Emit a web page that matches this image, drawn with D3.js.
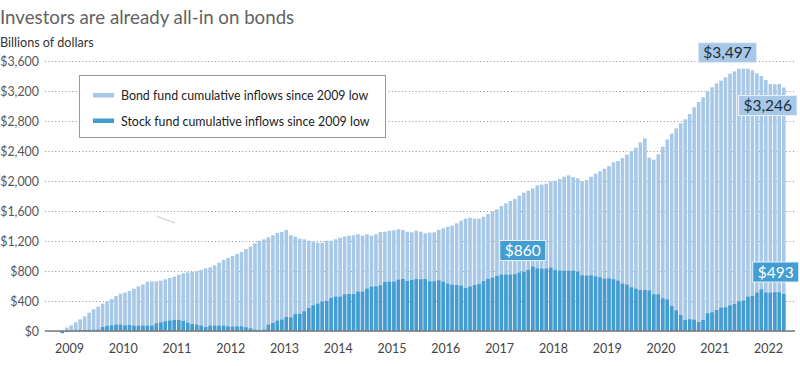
<!DOCTYPE html>
<html>
<head>
<meta charset="utf-8">
<script src="https://cdn.jsdelivr.net/npm/d3@7"></script>
<style>
  html, body { margin: 0; padding: 0; background: #fff; }
  svg { display: block; font-family: Lato, "Open Sans", sans-serif; }
</style>
</head>
<body>
<svg id="chart" width="800" height="366"></svg>
<script>
// ---- Data ----
const startMonth = new Date(2009, 2, 1);   // March 2009 (the 2009 low)
const endMonth = new Date(2022, 8, 1);     // exclusive: through August 2022
const months = d3.timeMonth.range(startMonth, endMonth);

const bondValues = [
  -20, 45, 75, 115, 155, 195, 245, 290, 325, 365,
  395, 427, 467, 498, 511, 533, 564, 595, 622, 658,
  662, 662, 671, 689, 707, 724, 751, 769, 782, 787,
  795, 813, 835, 849, 875, 911, 947, 973, 1000, 1027,
  1053, 1093, 1124, 1169, 1204, 1222, 1249, 1276, 1307, 1320,
  1347, 1276, 1258, 1231, 1222, 1204, 1191, 1178, 1178, 1204,
  1204, 1222, 1244, 1258, 1271, 1276, 1289, 1271, 1289, 1271,
  1289, 1320, 1324, 1338, 1342, 1356, 1347, 1324, 1316, 1338,
  1324, 1302, 1311, 1316, 1347, 1369, 1391, 1404, 1436, 1471,
  1498, 1511, 1498, 1498, 1524, 1560, 1591, 1622, 1667, 1702,
  1733, 1760, 1804, 1844, 1871, 1900, 1942, 1951, 1964, 1991,
  2004, 2027, 2058, 2075, 2053, 2036, 2000, 2013, 2058, 2098,
  2129, 2164, 2200, 2249, 2267, 2306, 2351, 2395, 2444, 2515,
  2569, 2311, 2284, 2355, 2458, 2555, 2631, 2702, 2769, 2822,
  2893, 2982, 3053, 3115, 3196, 3249, 3302, 3338, 3382, 3431,
  3462, 3497, 3497, 3497, 3476, 3435, 3400, 3346, 3293, 3289,
  3293, 3246
];

const stockValues = [
  -30, -15, 5, 8, 10, 12, 15, 15, 18, 53,
  67, 75, 84, 84, 75, 80, 71, 71, 71, 71,
  71, 102, 115, 129, 138, 147, 147, 133, 111, 93,
  84, 71, 53, 71, 71, 71, 71, 62, 58, 62,
  62, 49, 36, 18, 9, 18, 84, 107, 138, 151,
  187, 182, 227, 227, 262, 307, 342, 364, 391, 400,
  440, 458, 458, 489, 493, 493, 524, 524, 564, 591,
  595, 609, 653, 658, 658, 684, 693, 667, 680, 693,
  689, 693, 662, 662, 676, 658, 631, 618, 613, 604,
  573, 591, 613, 625, 665, 695, 710, 735, 751, 751,
  751, 758, 780, 789, 815, 860, 836, 831, 831, 844,
  813, 804, 804, 804, 804, 791, 742, 738, 742, 729,
  716, 698, 702, 690, 671, 630, 618, 582, 564, 547,
  547, 540, 489, 489, 436, 422, 333, 276, 213, 147,
  156, 150, 120, 147, 236, 249, 280, 311, 316, 342,
  360, 396, 404, 458, 467, 511, 556, 511, 511, 516,
  516, 493
];

const yTicks = [0, 400, 800, 1200, 1600, 2000, 2400, 2800, 3200, 3600];
const yearLabels = ["2009","2010","2011","2012","2013","2014","2015","2016","2017","2018","2019","2020","2021","2022"];
const seriesNames = ["Bond fund cumulative inflows since 2009 low", "Stock fund cumulative inflows since 2009 low"];
const callouts = [
  { series: "bond", index: 152, text: "$3,497", dx: -16, pos: "above" },
  { series: "bond", index: 161, text: "$3,246", dx: -16, pos: "below" },
  { series: "stock", index: 105, text: "$860", dx: -10, pos: "above" },
  { series: "stock", index: 161, text: "$493", dx: -8, pos: "above12" }
];

// ---- Layout ----
const bondColor = "#a7c8e6";
const stockColor = "#439dd2";
const svg = d3.select("#chart");

const x = d3.scaleBand().domain(months).range([60, 786]).paddingInner(0.2).paddingOuter(0.1);
const y = d3.scaleLinear().domain([0, 3600]).range([331, 61]);
const step = x.step();

// Title
svg.append("text").attr("x", 0).attr("y", 24).attr("font-size", 18.7)
  .attr("fill", "#626262").text("Investors are already all-in on bonds");
svg.append("text").attr("x", 0).attr("y", 47).attr("font-size", 12.6)
  .attr("fill", "#333").text("Billions of dollars");

// Gridlines + y labels
const yAxis = d3.axisLeft(y).tickValues(yTicks).tickSize(0)
  .tickFormat(d => "$" + d3.format(",")(d));
const gy = svg.append("g").attr("transform", "translate(40,0)").call(yAxis);
gy.select(".domain").remove();
gy.selectAll("text").attr("font-size", 12.4).attr("fill", "#555")
  .attr("font-family", "Lato, 'Open Sans', sans-serif").attr("x", -1).attr("dy", "0.34em");
svg.append("g").selectAll("line").data(yTicks).join("line")
  .attr("x1", 45).attr("x2", 795)
  .attr("y1", d => Math.round(y(d)) + 0.5).attr("y2", d => Math.round(y(d)) + 0.5)
  .attr("stroke", "#8f8f8f").attr("stroke-width", 1).attr("stroke-dasharray", "1,2.4");

// Bars
const bond = months.map((m, i) => ({ m, v: bondValues[i] }));
const stock = months.map((m, i) => ({ m, v: stockValues[i] }));
svg.append("g").selectAll("rect").data(bond).join("rect")
  .attr("x", d => x(d.m)).attr("width", x.bandwidth())
  .attr("y", d => Math.min(y(d.v), y(0)))
  .attr("height", d => Math.abs(y(d.v) - y(0)))
  .attr("fill", bondColor);
svg.append("g").selectAll("rect").data(stock).join("rect")
  .attr("x", d => x(d.m)).attr("width", x.bandwidth())
  .attr("y", d => Math.min(y(d.v), y(0)))
  .attr("height", d => Math.abs(y(d.v) - y(0)))
  .attr("fill", stockColor);

// Baseline
svg.append("line").attr("x1", 45).attr("x2", 795).attr("y1", y(0)).attr("y2", y(0))
  .attr("stroke", "#7a7a7a").attr("stroke-width", 1.6);

// X labels
svg.append("g").selectAll("text").data(yearLabels).join("text")
  .attr("x", d => x(new Date(+d, 3, 1)) + step)
  .attr("y", 353).attr("text-anchor", "middle").attr("font-size", 12.5)
  .attr("fill", "#444").text(d => d);

// stray leader line
svg.append("line").attr("x1", 157).attr("y1", 216.5).attr("x2", 175).attr("y2", 223)
  .attr("stroke", "#c8c8c8").attr("stroke-width", 1);

// Legend
const lg = svg.append("g");
lg.append("rect").attr("x", 79.5).attr("y", 75.5).attr("width", 306).attr("height", 62)
  .attr("fill", "#fff").attr("stroke", "#9a9a9a").attr("stroke-width", 1);
[bondColor, stockColor].forEach((c, i) => {
  lg.append("rect").attr("x", 93).attr("y", 93 + i * 25.5).attr("width", 21).attr("height", 4.5).attr("fill", c);
  lg.append("text").attr("x", 121).attr("y", 100 + i * 25.5).attr("font-size", 12.4)
    .attr("fill", "#222").text(seriesNames[i]);
});

// Callouts
callouts.forEach(c => {
  const vals = c.series === "bond" ? bondValues : stockValues;
  const v = vals[c.index];
  const cx = x(months[c.index]) + x.bandwidth() / 2 + c.dx;
  const g = svg.append("g");
  const t = g.append("text").attr("font-size", 15.5)
    .attr("text-anchor", "middle")
    .attr("fill", c.series === "bond" ? "#1f2d3a" : "#fff").text(c.text);
  const w = t.node().getComputedTextLength() + 10;
  let top;
  if (c.pos === "above") top = y(v) - 6 - 20;
  else if (c.pos === "above12") top = y(v) - 12 - 20;
  else top = y(v) + 8;
  g.insert("rect", "text").attr("x", cx - w / 2).attr("y", top).attr("width", w).attr("height", 20)
    .attr("fill", c.series === "bond" ? bondColor : stockColor)
    .attr("stroke", "#e8f1fa").attr("stroke-width", 1);
  t.attr("x", cx).attr("y", top + 15.5);
});
</script>
</body>
</html>
